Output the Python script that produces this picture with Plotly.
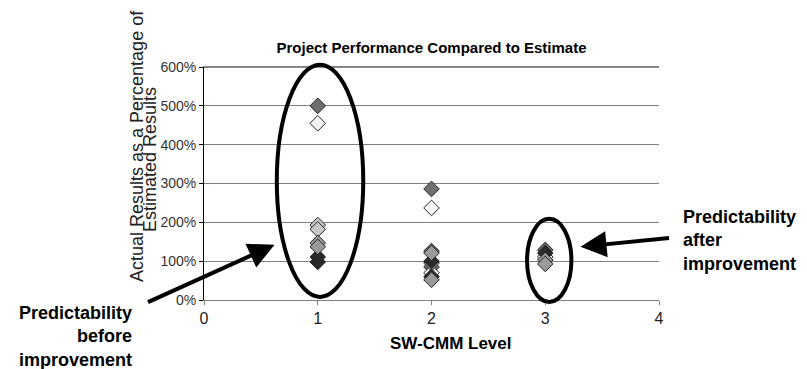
import plotly.graph_objects as go

# SW-CMM level of each project and its actual/estimated result (%)
series_names = ["Series A", "Series B", "Series C", "Series E", "Series D"]
series_colors = ["#6f6f6f", "#f4f4f4", "#c8c8c8", "#2a2a2a", "#9a9a9a"]
levels_a = [1, 2, 2, 2, 3]
values_a = [500, 286, 126, 85, 129]
levels_b = [1, 2, 2, 3]
values_b = [455, 237, 70, 111]
levels_c = [1, 1, 2]
values_c = [193, 182, 95]
levels_e = [1, 1, 2, 2, 3]
values_e = [111, 98, 60, 100, 121]
levels_d = [1, 1, 2, 2, 3, 3]
values_d = [147, 137, 121, 52, 103, 93]
all_levels = [levels_a, levels_b, levels_c, levels_e, levels_d]
all_values = [values_a, values_b, values_c, values_e, values_d]

x_ticks = [0, 1, 2, 3, 4]
y_ticks = [0, 100, 200, 300, 400, 500, 600]
y_tick_text = [f"{v}%" for v in y_ticks]

FONT = "Liberation Sans, Arial, sans-serif"

fig = go.Figure()
for name, col, lx, vy in zip(series_names, series_colors, all_levels, all_values):
    fig.add_trace(go.Scatter(
        x=lx, y=vy, mode="markers", name=name,
        marker=dict(symbol="diamond", size=12, color=col,
                    line=dict(color="#222222", width=1)),
        cliponaxis=False, showlegend=False))

# ellipses (in axis-domain fractions so they are not clipped)
def ell(x0, x1, y0, y1):
    return dict(type="circle", xref="x domain", yref="y domain",
                x0=x0 / 4, x1=x1 / 4, y0=y0 / 600, y1=y1 / 600,
                line=dict(color="black", width=4), layer="above")

fig.add_shape(type="line", xref="x domain", yref="y domain", x0=0, x1=1, y0=1, y1=1,
              line=dict(color="#202020", width=1), layer="below")
fig.add_shape(**ell(0.64, 1.40, 8, 606))
fig.add_shape(**ell(2.84, 3.23, -5, 209))

W, H = 807, 369
ML, MR, MT, MB = 204, 148, 67, 69
pw, ph = W - ML - MR, H - MT - MB

annotations = [
    dict(x=0.62, y=142, xref="x", yref="y", ax=-128, ay=58, text="",
         showarrow=True, arrowhead=2, arrowsize=1.3, arrowwidth=4, arrowcolor="black"),
    dict(x=3.31, y=137, xref="x", yref="y", ax=90, ay=-9, text="",
         showarrow=True, arrowhead=2, arrowsize=1.3, arrowwidth=4, arrowcolor="black"),
    dict(x=134, y=336, xref="paper", yref="paper",
         text="<b>Predictability<br>before<br>improvement</b>",
         showarrow=False, align="right", xanchor="right", yanchor="middle",
         font=dict(family=FONT, size=18, color="black")),
    dict(x=681, y=240, xref="paper", yref="paper",
         text="<b>Predictability<br>after<br>improvement</b>",
         showarrow=False, align="left", xanchor="left", yanchor="middle",
         font=dict(family=FONT, size=18, color="black")),
    dict(x=137, y=146, xref="paper", yref="paper",
         text="Actual Results as a Percentage of",
         textangle=-90, showarrow=False, xanchor="center", yanchor="middle",
         font=dict(family=FONT, size=18, color="#222222")),
    dict(x=150, y=160, xref="paper", yref="paper",
         text="Estimated Results",
         textangle=-90, showarrow=False, xanchor="center", yanchor="middle",
         font=dict(family=FONT, size=18, color="#222222")),
    dict(x=451, y=343, xref="paper", yref="paper",
         text="<b>SW-CMM Level</b>",
         showarrow=False, xanchor="center", yanchor="middle",
         font=dict(family=FONT, size=17, color="black")),
]
# convert pixel positions of text annotations to paper coordinates
for a in annotations:
    if a["xref"] == "paper":
        a["x"] = (a["x"] - ML) / pw
        a["y"] = 1 - (a["y"] - MT) / ph
fig.update_layout(annotations=annotations)

fig.update_layout(
    width=W, height=H,
    margin=dict(l=ML, r=MR, t=MT, b=MB),
    paper_bgcolor="white", plot_bgcolor="white",
    title=dict(text="<b>Project Performance Compared to Estimate</b>",
               x=(ML + pw / 2) / W, xanchor="center", y=1 - 48 / H, yanchor="middle",
               font=dict(family=FONT, size=15, color="black")),
    xaxis=dict(range=[0, 4], tickvals=x_ticks, ticktext=[str(v) for v in x_ticks],
               showgrid=False, zeroline=False, showline=True, mirror=True,
               linecolor="#808080", linewidth=1, ticks="outside", ticklen=4,
               tickcolor="#808080",
               tickfont=dict(family=FONT, size=16, color="#222222")),
    yaxis=dict(range=[0, 600], tickvals=y_ticks, ticktext=y_tick_text,
               showgrid=True, gridcolor="#808080", gridwidth=1,
               zeroline=False, showline=True, mirror=False,
               linecolor="black", linewidth=1, ticks="outside", ticklen=4,
               tickcolor="black",
               tickfont=dict(family=FONT, size=14, color="#333333")),
)

fig.write_html("out.html", config={"displayModeBar": False},
               post_script="document.body.style.margin='0px';")
